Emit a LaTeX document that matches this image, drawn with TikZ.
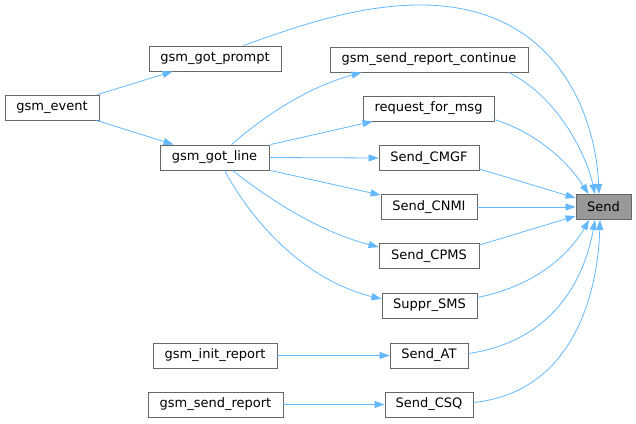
\documentclass[tikz,border=0pt]{standalone}
\usepackage{fontspec}
\setmainfont{DejaVu Sans}
\usetikzlibrary{arrows.meta,calc}
\definecolor{edgec}{HTML}{63B8FF}
\definecolor{boxc}{HTML}{666666}
\definecolor{sendfill}{HTML}{999999}
\tikzset{
  fn/.style={draw=boxc, fill=white, line width=0.9pt, minimum height=25pt, inner sep=0pt, font=\fontsize{13}{15}\selectfont},
  ed/.style={draw=edgec, line width=0.8pt, -{Triangle[length=10pt,width=7pt]}}
}
\begin{document}
\begin{tikzpicture}[x=1pt,y=-1pt]
\useasboundingbox (0,0) rectangle (636,423);
% nodes
\node[fn, minimum width=94pt]  (event)    at (52,107.5)  {gsm\_event};
\node[fn, minimum width=132pt] (prompt)   at (215,58.5)  {gsm\_got\_prompt};
\node[fn, minimum width=109pt] (gotline)  at (214.5,157.5) {gsm\_got\_line};
\node[fn, minimum width=124pt] (initrep)  at (215,355.5) {gsm\_init\_report};
\node[fn, minimum width=135pt] (sendrep)  at (215.5,404.5) {gsm\_send\_report};
\node[fn, minimum width=198pt] (cont)     at (429,59.5)  {gsm\_send\_report\_continue};
\node[fn, minimum width=131pt] (req)      at (428.5,108.5) {request\_for\_msg};
\node[fn, minimum width=100pt] (cmgf)     at (429,158)   {Send\_CMGF};
\node[fn, minimum width=96pt]  (cnmi)     at (429,207)   {Send\_CNMI};
\node[fn, minimum width=100pt] (cpms)     at (429,256)   {Send\_CPMS};
\node[fn, minimum width=95pt]  (suppr)    at (429.5,305.5) {Suppr\_SMS};
\node[fn, minimum width=78pt]  (at)       at (429,355.5) {Send\_AT};
\node[fn, minimum width=88pt]  (csq)      at (429,404.5) {Send\_CSQ};
\node[fn, minimum width=55pt, fill=sendfill] (send) at (603.5,207) {Send};
% edges
\draw[ed] ($(event.north east)+(-2,0)$) -- ($(prompt.south west)+(24,0)$);
\draw[ed] ($(event.south east)+(-3,0)$) -- ($(gotline.north west)+(14,0)$);
\draw[ed] ($(prompt.north west)+(95,0)$) .. controls (300,25) and (360,5) .. (420,5)
          .. controls (560,5) and (596,120) .. ($(send.north)+(-4.5,0)$);
\draw[ed] ($(gotline.north west)+(72,0)$) .. controls (262,118) and (305,88) .. ($(cont.south west)+(32,0)$);
\draw[ed] ($(gotline.north east)+(1,0)$) -- ($(req.south west)+(10,0)$);
\draw[ed] (gotline.east) -- (cmgf.west);
\draw[ed] ($(gotline.south east)+(1,0)$) -- ($(cnmi.north west)+(0,1)$);
\draw[ed] ($(gotline.south west)+(73,0)$) .. controls (270,200) and (320,232) .. ($(cpms.west)+(0,-9)$);
\draw[ed] ($(gotline.south west)+(65,0)$) .. controls (258,232) and (312,282) .. ($(suppr.west)+(0,-6.5)$);
\draw[ed] (initrep.east) -- (at.west);
\draw[ed] (sendrep.east) -- (csq.west);
\draw[ed] ($(cont.south east)+(-20,0)$) .. controls (555,95) and (585,150) .. ($(send.north)+(-8.5,0)$);
\draw[ed] ($(req.east)+(0,11)$) .. controls (540,134) and (570,165) .. ($(send.north)+(-15,0)$);
\draw[ed] ($(cmgf.east)+(0,11)$) -- ($(send.west)+(0,-9)$);
\draw[ed] (cnmi.east) -- (send.west);
\draw[ed] ($(cpms.east)+(0,-11)$) -- ($(send.west)+(0,9)$);
\draw[ed] ($(suppr.east)+(0,-8)$) .. controls (540,285) and (572,250) .. ($(send.south)+(-14.5,0)$);
\draw[ed] ($(at.east)+(0,-2)$) .. controls (560,340) and (586,270) .. ($(send.south)+(-8.5,0)$);
\draw[ed] ($(csq.east)+(0,-2)$) .. controls (575,392) and (598,290) .. ($(send.south)+(-3.5,0)$);
\end{tikzpicture}
\end{document}
